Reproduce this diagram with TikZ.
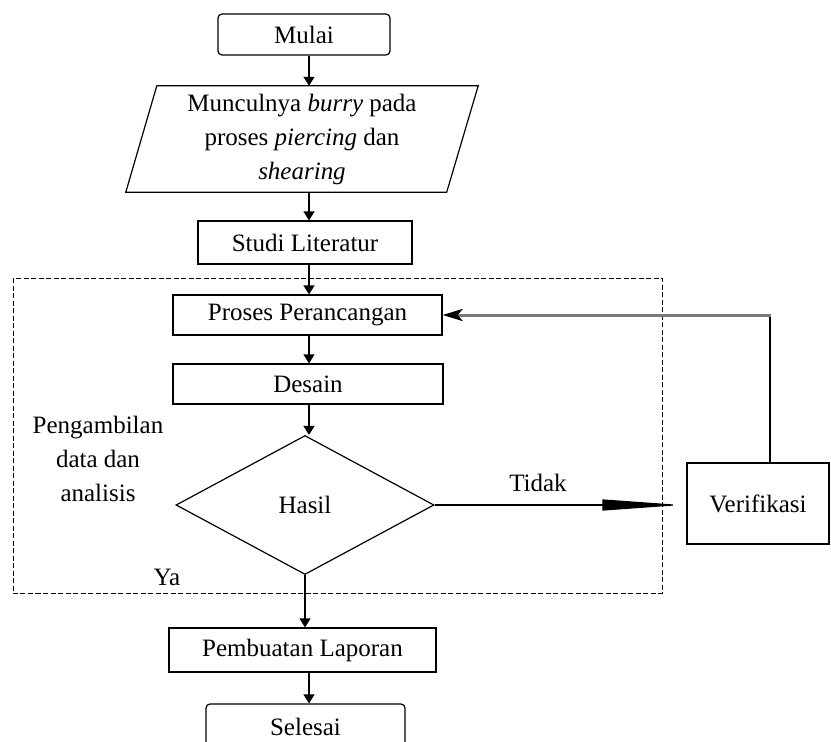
\documentclass[tikz,border=0pt]{standalone}
\usepackage{fontspec}
\setmainfont{Liberation Serif}
\usetikzlibrary{arrows.meta,shapes.geometric,calc}
\definecolor{fbgray}{HTML}{7A7A7A}
\begin{document}
\begin{tikzpicture}[x=1pt,y=-1pt,
  font=\fontsize{25}{34}\selectfont,
  box/.style={draw, line width=1.2pt, inner sep=0pt, align=center},
  rbox/.style={box, rounded corners=4pt},
  arr/.style={line width=1.2pt, -{Triangle[length=9pt,width=11pt]}},
  dashbox/.style={line width=1pt, dash pattern=on 5pt off 2.5pt}
]
\clip (0,0) rectangle (831,742);

% nodes
\node[rbox, minimum width=172pt, minimum height=41pt] (mulai) at (304,34.5) {Mulai};
\node[minimum width=321pt, minimum height=106pt, inner sep=0pt, align=center] (prob) at (302,139)
  {Munculnya \textit{burry} pada\\ proses \textit{piercing} dan\\ \textit{shearing}};
\draw[line width=1.2pt] ($(prob.north west)+(15.5,0)$) -- ($(prob.north east)+(15.5,0)$)
  -- ($(prob.south east)+(-16,0)$) -- ($(prob.south west)+(-15.5,0)$) -- cycle;
\node[box, minimum width=214pt, minimum height=43pt] (studi) at (305,242.5) {Studi Literatur};

\draw[dashbox] (13,278) rectangle (662,593);

\node[box, minimum width=269pt, minimum height=40pt] (proses) at (307.5,315) {Proses Perancangan};
\node[box, minimum width=270pt, minimum height=40pt] (desain) at (308,384) {Desain};
\node[draw, diamond, line width=1.2pt, minimum width=258pt, minimum height=139pt, inner sep=0pt] (hasil) at (305,505) {Hasil};
\node[box, minimum width=142pt, minimum height=81pt] (ver) at (758,503.5) {Verifikasi};
\node[box, minimum width=267pt, minimum height=44pt] (lap) at (302.5,650) {Pembuatan Laporan};
\node[rbox, minimum width=199pt, minimum height=46pt] (selesai) at (305.5,727) {Selesai};

\node[align=center, inner sep=0pt] (peng) at (98,459) {Pengambilan\\data dan\\analisis};
\node[inner sep=0pt] (tidak) at (538,483) {Tidak};
\node[inner sep=0pt] (ya) at (167,577) {Ya};

% connectors
\coordinate (ax) at (309,0);
\draw[arr] (mulai.south -| ax) -- (prob.north -| ax);
\draw[arr] (prob.south -| ax) -- (studi.north -| ax);
\draw[arr] (studi.south -| ax) -- (proses.north -| ax);
\draw[arr] (proses.south -| ax) -- (desain.north -| ax);
\draw[arr] (desain.south -| ax) -- (hasil.north -| ax);
\draw[arr] (hasil.south) -- (lap.north -| hasil.south);
\draw[arr] (lap.south -| ax) -- (selesai.north -| ax);

\draw[line width=1.2pt, -{Triangle[length=79pt,width=11pt]}] (hasil.east) -- ([xshift=-5pt]ver.west |- hasil.east);

\coordinate (corner) at (770,315);
\draw[line width=1.2pt] (ver.north -| corner) -- (corner);
\draw[fbgray, line width=3pt, -{Stealth[length=20pt,width=12pt,inset=5pt,color=black]}] ([xshift=0.6pt]corner) -- (proses.east);
\end{tikzpicture}
\end{document}
